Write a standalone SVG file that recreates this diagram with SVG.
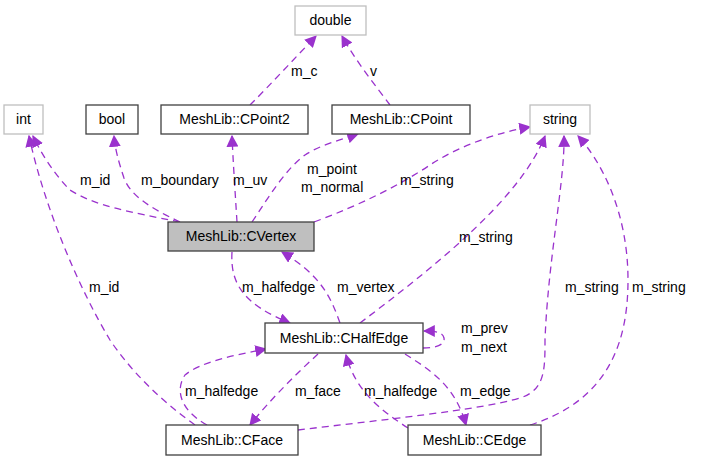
<svg xmlns="http://www.w3.org/2000/svg" width="701" height="461" viewBox="0 0 701 461">
<defs>
<style>
text{font-family:"Liberation Sans",Arial,sans-serif;font-size:14px;fill:#000}
.n{fill:#fff;stroke:#404040;stroke-width:1.3}
.g{fill:#fff;stroke:#bfbfbf;stroke-width:1.3}
.e{fill:none;stroke:#9a32cd;stroke-width:1.3;stroke-dasharray:7,5}
</style>
<marker id="a" viewBox="0 0 10 10" refX="9" refY="5" markerWidth="12" markerHeight="12" markerUnits="userSpaceOnUse" orient="auto"><path d="M0,0L10,5L0,10z" fill="#9a32cd"/></marker>
</defs>
<rect width="701" height="461" fill="#fff"/>
<g id="connectors">
<path class="e" marker-end="url(#a)" d="M180,222C130,212 95,206 70,190C55,175 42,155 33,136"/>
<path class="e" marker-end="url(#a)" d="M180,222C150,208 130,195 124,178C118,160 115,148 114,136"/>
<path class="e" marker-end="url(#a)" d="M237,222C235,190 233,160 232,136"/>
<path class="e" marker-end="url(#a)" d="M252,222C270,195 285,170 305,155C320,145 340,140 358,134"/>
<path class="e" marker-end="url(#a)" d="M314,222C360,205 400,185 430,165C460,145 500,132 530,127"/>
<path class="e" marker-end="url(#a)" d="M250,105C270,85 295,58 316,36"/>
<path class="e" marker-end="url(#a)" d="M390,105C375,85 355,60 342,36"/>
<path class="e" marker-end="url(#a)" d="M232,252C230,285 245,305 290,323"/>
<path class="e" marker-end="url(#a)" d="M340,323C330,295 320,275 282,252"/>
<path class="e" marker-end="url(#a)" d="M360,323C430,270 520,200 545,136"/>
<path class="e" marker-end="url(#a)" d="M423,348C440,348 445,343 444,338C443,333 438,331 424,331"/>
<path class="e" marker-end="url(#a)" d="M318,354C295,375 270,400 250,425"/>
<path class="e" marker-end="url(#a)" d="M207,425C180,410 175,390 185,375C200,362 235,355 266,349"/>
<path class="e" marker-end="url(#a)" d="M195,425C160,400 130,370 110,340C80,290 45,210 29,136"/>
<path class="e" marker-end="url(#a)" d="M408,428C380,410 355,390 346,355"/>
<path class="e" marker-end="url(#a)" d="M405,354C430,370 455,385 466,425"/>
<path class="e" marker-end="url(#a)" d="M298,430C380,420 480,410 520,398C545,390 545,370 545,340C548,260 565,180 564,136"/>
<path class="e" marker-end="url(#a)" d="M530,425C610,400 628,340 628,280C628,210 600,160 578,136"/>
</g>
<g id="double"><rect class="g" x="295" y="6" width="71" height="29"/><text x="330.5" y="25" text-anchor="middle">double</text></g>
<g id="int"><rect class="g" x="4" y="105" width="39" height="29"/><text x="23.5" y="124" text-anchor="middle">int</text></g>
<g id="bool"><rect class="n" x="86" y="105" width="52" height="29"/><text x="112" y="124" text-anchor="middle">bool</text></g>
<g id="cpoint2"><rect class="n" x="161" y="105" width="147" height="29"/><text x="234.5" y="124" text-anchor="middle">MeshLib::CPoint2</text></g>
<g id="cpoint"><rect class="n" x="332" y="105" width="138" height="29"/><text x="401" y="124" text-anchor="middle">MeshLib::CPoint</text></g>
<g id="string"><rect class="g" x="530" y="105" width="60" height="29"/><text x="560" y="124" text-anchor="middle">string</text></g>
<g id="cvertex"><rect x="168" y="222" width="146" height="29" fill="#bfbfbf" stroke="#404040" stroke-width="1.3"/><text x="241" y="241" text-anchor="middle">MeshLib::CVertex</text></g>
<g id="chalfedge"><rect class="n" x="265" y="323" width="158" height="30"/><text x="344" y="343" text-anchor="middle">MeshLib::CHalfEdge</text></g>
<g id="cface"><rect class="n" x="166" y="425" width="132" height="30"/><text x="232" y="445" text-anchor="middle">MeshLib::CFace</text></g>
<g id="cedge"><rect class="n" x="408" y="425" width="133" height="30"/><text x="474.5" y="445" text-anchor="middle">MeshLib::CEdge</text></g>
<g id="labels">
<text x="80" y="185">m_id</text>
<text x="141" y="185">m_boundary</text>
<text x="233" y="185">m_uv</text>
<text x="307" y="174">m_point</text>
<text x="301" y="192">m_normal</text>
<text x="400" y="185">m_string</text>
<text x="291" y="76">m_c</text>
<text x="370" y="76">v</text>
<text x="242" y="292">m_halfedge</text>
<text x="337" y="292">m_vertex</text>
<text x="459" y="242">m_string</text>
<text x="461" y="333">m_prev</text>
<text x="461" y="352">m_next</text>
<text x="89" y="292">m_id</text>
<text x="565" y="292">m_string</text>
<text x="632" y="292">m_string</text>
<text x="185" y="396">m_halfedge</text>
<text x="295" y="396">m_face</text>
<text x="364" y="396">m_halfedge</text>
<text x="460" y="396">m_edge</text>
</g>
</svg>
